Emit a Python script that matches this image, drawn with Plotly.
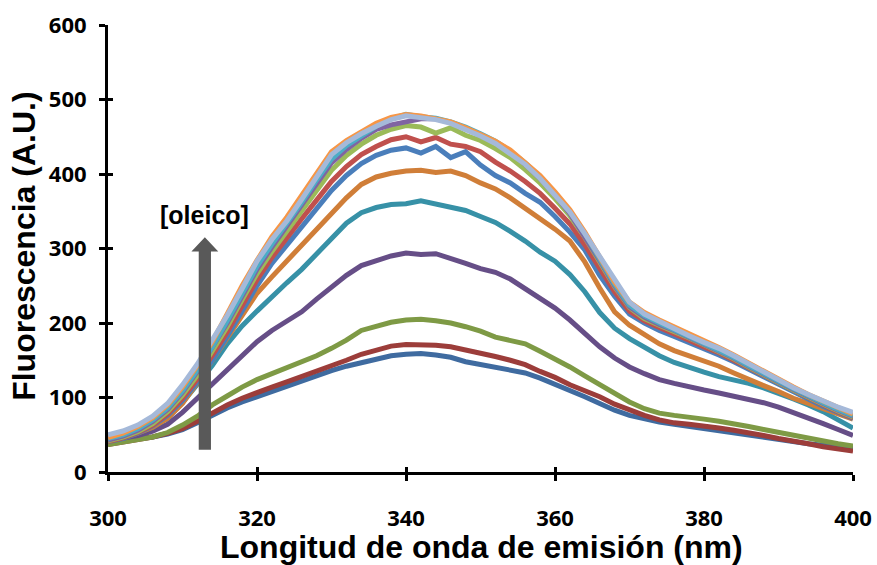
import plotly.graph_objects as go

# ---------------- data ----------------
wavelength = [300, 302, 304, 306, 308, 310, 312, 314, 316, 318, 320, 322, 324, 326, 328, 330, 332,
              334, 336, 338, 340, 342, 344, 346, 348, 350, 352, 354, 356, 358, 360, 362, 364, 366,
              368, 370, 372, 374, 376, 378, 380, 382, 384, 386, 388, 390, 392, 394, 396, 398, 400]

s01 = [40, 42, 44, 47, 51, 57, 66, 76, 86, 94, 101, 109, 116, 123, 129, 136, 142, 147, 152, 156, 158,
       159, 157, 154, 148, 144, 140, 136, 133, 126, 118, 110, 101, 92, 83, 76, 71, 67, 64, 61, 59, 56,
       53, 50, 47, 44, 41, 38, 36, 34, 32]
s02 = [37, 40, 43, 47, 52, 58, 68, 79, 90, 99, 107, 114, 121, 128, 135, 143, 150, 158, 164, 169, 171,
       171, 170, 168, 164, 159, 155, 150, 144, 135, 127, 117, 109, 101, 91, 83, 76, 70, 66, 64, 62, 59,
       56, 53, 49, 45, 42, 38, 34, 31, 28]
s03 = [37, 40, 43, 47, 53, 63, 75, 90, 102, 114, 124, 132, 140, 148, 156, 166, 177, 190, 196, 201, 204,
       205, 203, 200, 195, 189, 181, 176, 172, 162, 152, 141, 129, 117, 106, 94, 85, 79, 76, 74, 71, 68,
       65, 61, 57, 53, 49, 46, 42, 38, 35]
s04 = [42, 45, 49, 55, 64, 80, 99, 120, 138, 157, 175, 190, 202, 215, 232, 248, 264, 277, 284, 290, 294,
       292, 293, 287, 280, 273, 268, 259, 246, 234, 220, 204, 186, 168, 153, 141, 132, 124, 119, 114, 110,
       106, 102, 98, 93, 87, 80, 73, 65, 57, 49]
s05 = [45, 48, 53, 60, 72, 93, 118, 143, 172, 196, 216, 236, 254, 272, 293, 315, 334, 348, 355, 359, 360,
       364, 360, 355, 351, 343, 335, 323, 310, 295, 283, 265, 242, 214, 193, 179, 167, 156, 147, 140, 134,
       128, 124, 119, 113, 106, 98, 90, 81, 70, 59]
s06 = [42, 46, 52, 60, 72, 92, 120, 150, 180, 210, 240, 262, 283, 303, 324, 346, 368, 386, 396, 401, 404,
       405, 402, 404, 398, 388, 380, 368, 354, 341, 326, 310, 282, 247, 215, 197, 184, 172, 163, 156, 149,
       142, 133, 124, 116, 108, 99, 92, 85, 78, 71]
s07 = [41, 45, 52, 62, 76, 96, 121, 150, 182, 216, 250, 280, 305, 330, 355, 378, 398, 414, 425, 432, 435,
       428, 437, 422, 430, 412, 398, 388, 374, 362, 343, 322, 298, 264, 236, 212, 200, 190, 182, 174, 166,
       157, 148, 138, 127, 117, 107, 97, 88, 80, 72]
s08 = [41, 46, 53, 63, 78, 99, 125, 155, 188, 223, 258, 288, 315, 340, 365, 390, 410, 426, 437, 446, 450,
       443, 449, 440, 437, 430, 416, 404, 390, 374, 354, 333, 305, 272, 242, 216, 203, 194, 186, 177, 168,
       160, 150, 140, 129, 119, 109, 99, 90, 81, 73]
s09 = [42, 47, 54, 65, 81, 103, 130, 161, 195, 231, 266, 296, 323, 350, 378, 405, 425, 440, 452, 460, 465,
       463, 455, 462, 452, 445, 434, 422, 406, 388, 367, 344, 315, 283, 249, 221, 206, 197, 189, 180, 171,
       162, 152, 141, 130, 120, 110, 100, 91, 82, 74]
s10 = [43, 48, 56, 68, 84, 107, 135, 166, 200, 236, 272, 302, 330, 358, 386, 415, 433, 448, 460, 466, 470,
       474, 474, 469, 461, 452, 442, 429, 413, 394, 372, 347, 317, 284, 250, 222, 208, 198, 190, 181, 172,
       163, 153, 142, 131, 121, 111, 101, 92, 83, 75]
s11 = [45, 50, 58, 70, 86, 109, 137, 168, 203, 240, 276, 306, 333, 362, 392, 420, 438, 452, 464, 474, 480,
       477, 475, 470, 463, 454, 444, 431, 415, 396, 374, 350, 320, 287, 252, 224, 210, 200, 191, 182, 173,
       164, 154, 143, 132, 122, 112, 102, 93, 84, 76]
s12 = [46, 52, 61, 73, 90, 114, 143, 175, 212, 250, 284, 316, 342, 372, 402, 430, 445, 457, 468, 476, 480,
       478, 474, 470, 462, 453, 444, 432, 416, 398, 376, 352, 322, 290, 255, 228, 214, 204, 195, 186, 176,
       167, 157, 146, 135, 124, 114, 104, 95, 86, 78]
s13 = [50, 55, 63, 75, 92, 117, 145, 176, 210, 246, 283, 312, 337, 366, 396, 426, 442, 454, 464, 473, 478,
       476, 473, 468, 460, 451, 441, 428, 413, 394, 372, 349, 320, 289, 256, 228, 212, 202, 193, 183, 174,
       166, 156, 145, 134, 123, 113, 104, 95, 87, 80]

series = [s01, s02, s03, s04, s05, s06, s07, s08, s09, s10, s11, s12, s13]
series_colors = ["#3F6BA0", "#9C3D3A", "#7E9A45", "#664E87", "#3791A7", "#D07E38",
                 "#4A7EBB", "#C0504D", "#9BBB59", "#8064A2", "#4BACC6", "#F79646", "#A5B9D9"]

x_ticks = [300, 320, 340, 360, 380, 400]
y_ticks = [0, 100, 200, 300, 400, 500, 600]
x_title = "Longitud de onda de emisión (nm)"
y_title = "Fluorescencia (A.U.)"
arrow_label = "[oleico]"

# ---------------- figure ----------------
fig = go.Figure()
for vals, col in zip(series, series_colors):
    fig.add_trace(go.Scatter(x=wavelength, y=vals, mode="lines",
                             line=dict(color=col, width=5), showlegend=False,
                             hoverinfo="skip"))

# helper empty traces so the overlay axes (inner half of the cross ticks) are drawn
fig.add_trace(go.Scatter(x=[None], y=[None], xaxis="x2", yaxis="y", showlegend=False))
fig.add_trace(go.Scatter(x=[None], y=[None], xaxis="x", yaxis="y2", showlegend=False))

tick_font = dict(family="Open Sans", size=22, color="black")
title_font = dict(family="Liberation Sans", size=32, color="black")

fig.update_layout(
    template="none",
    width=877, height=565,
    margin=dict(l=108, r=24, t=25, b=93, autoexpand=False),
    paper_bgcolor="white", plot_bgcolor="white",
    xaxis=dict(range=[300, 400], tickvals=x_ticks, ticktext=[f"<b>{v}</b>" for v in x_ticks],
               ticks="outside", ticklen=6, tickwidth=3,
               tickcolor="black", showline=True, linewidth=3, linecolor="black",
               showgrid=False, zeroline=False, tickfont=tick_font, ticklabelstandoff=19,
               automargin=False, fixedrange=True),
    xaxis2=dict(range=[300, 400], tickvals=x_ticks, ticks="inside", ticklen=5, tickwidth=3,
                tickcolor="black", overlaying="x", anchor="y", side="bottom",
                showticklabels=False, showline=False, showgrid=False, zeroline=False,
                automargin=False),
    yaxis=dict(range=[0, 600], tickvals=y_ticks, ticktext=[f"<b>{v}</b>" for v in y_ticks],
               ticks="outside", ticklen=6, tickwidth=3,
               tickcolor="black", showline=True, linewidth=3, linecolor="black",
               showgrid=False, zeroline=False, tickfont=tick_font, ticklabelstandoff=8,
               automargin=False, fixedrange=True),
    yaxis2=dict(range=[0, 600], tickvals=y_ticks, ticks="inside", ticklen=5, tickwidth=3,
                tickcolor="black", overlaying="y", anchor="x", side="left",
                showticklabels=False, showline=False, showgrid=False, zeroline=False,
                automargin=False),
)

# axis titles
fig.add_annotation(text=f"<b>{x_title}</b>", xref="paper", yref="paper", x=0.502, y=-0.168,
                   xanchor="center", yanchor="middle", showarrow=False, font=title_font)
fig.add_annotation(text=f"<b>{y_title}</b>", xref="paper", yref="paper", x=-0.112, y=0.505,
                   xanchor="center", yanchor="middle", textangle=-90, showarrow=False,
                   font=title_font)

# concentration arrow and its label
arrow_x = 313.0
arrow_base, arrow_neck, arrow_tip = 30, 296, 315
shaft_half, head_half = 0.82, 1.8
fig.add_shape(type="path", xref="x", yref="y",
              path=(f"M {arrow_x - shaft_half},{arrow_base} L {arrow_x + shaft_half},{arrow_base} "
                    f"L {arrow_x + shaft_half},{arrow_neck} L {arrow_x + head_half},{arrow_neck} "
                    f"L {arrow_x},{arrow_tip} L {arrow_x - head_half},{arrow_neck} "
                    f"L {arrow_x - shaft_half},{arrow_neck} Z"),
              fillcolor="#595959", line=dict(width=0))
fig.add_annotation(text=f"<b>{arrow_label}</b>", x=arrow_x, y=345, xref="x", yref="y",
                   showarrow=False, xanchor="center", yanchor="middle",
                   font=dict(family="Liberation Sans", size=25, color="black"))

fig.write_html("out.html")
